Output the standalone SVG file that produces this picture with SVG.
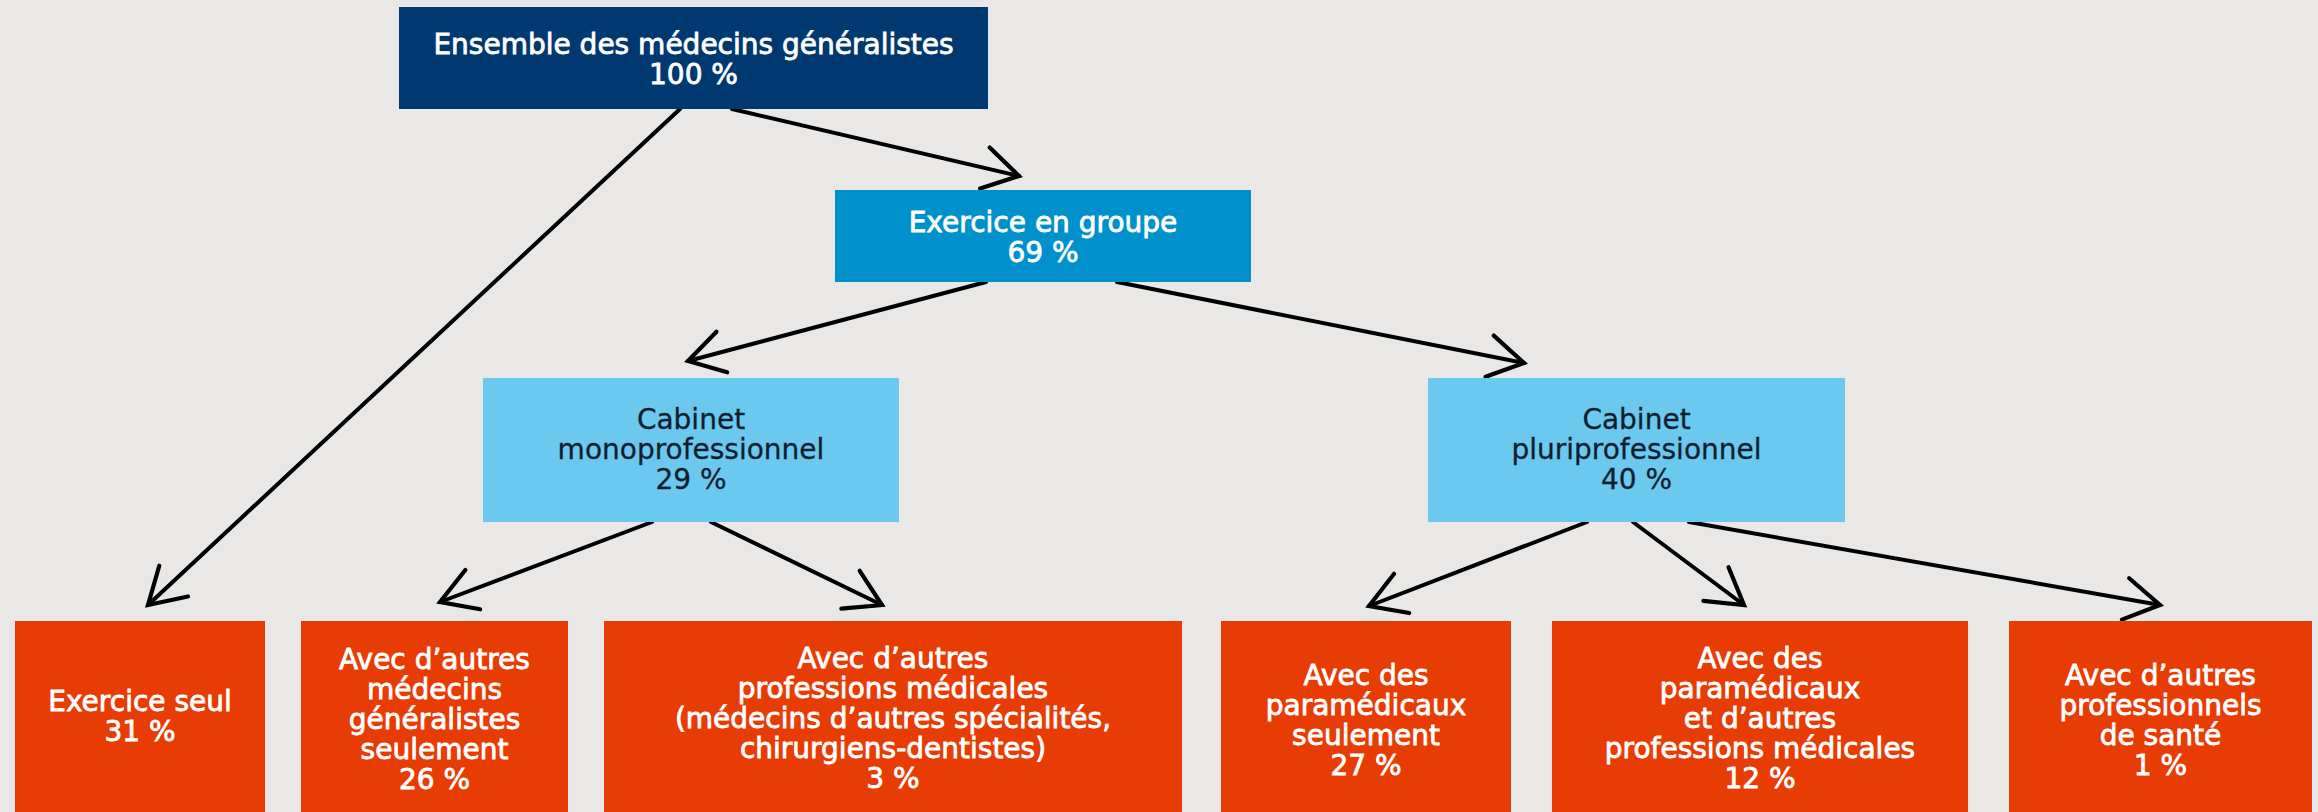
<svg xmlns="http://www.w3.org/2000/svg" width="2318" height="812" viewBox="0 0 2318 812">
<style>
  text { font-family: "DejaVu Sans", "Liberation Sans", sans-serif; font-size: 28px; text-anchor: middle; }
  .w { fill: #ffffff; stroke: #ffffff; stroke-width: 0.8px; }
  .d { fill: #0f1e2e; stroke: #0f1e2e; stroke-width: 0.3px; }
  .navy { fill: #003870; }
  .blue { fill: #0091cc; }
  .light { fill: #6bc8ef; }
  .orange { fill: #e83c05; }
  .conn line { stroke: #000000; stroke-width: 4; stroke-linecap: round; fill: none; marker-end: url(#arr); }
</style>
<defs>
  <marker id="arr" markerUnits="userSpaceOnUse" viewBox="-40 -25 45 50" markerWidth="45" markerHeight="50" refX="0" refY="0" orient="auto" overflow="visible">
    <path d="M -35 -21 L 0 0 L -35 21" fill="none" stroke="#000000" stroke-width="4.2" stroke-linecap="round" stroke-linejoin="miter"/>
  </marker>
</defs>
<rect x="0" y="0" width="2318" height="812" fill="#e9e8e6"/>

<g id="connectors" class="conn">
  <line x1="680" y1="109" x2="148" y2="605"/>
  <line x1="732" y1="109" x2="1019" y2="176"/>
  <line x1="986" y1="282" x2="688" y2="361"/>
  <line x1="1117" y1="282" x2="1524" y2="363"/>
  <line x1="652" y1="522" x2="440" y2="602"/>
  <line x1="711" y1="522" x2="882" y2="605"/>
  <line x1="1587" y1="522" x2="1369" y2="606"/>
  <line x1="1633" y1="522" x2="1744" y2="605"/>
  <line x1="1689" y1="522" x2="2160" y2="605"/>
</g>

<g id="node-ensemble">
  <rect class="navy" x="399" y="7" width="589" height="102"/>
  <text class="w" x="693.5" y="54">Ensemble des médecins généralistes</text>
  <text class="w" x="693.5" y="84">100 %</text>
</g>

<g id="node-groupe">
  <rect class="blue" x="835" y="190" width="416" height="92"/>
  <text class="w" x="1043" y="232">Exercice en groupe</text>
  <text class="w" x="1043" y="262">69 %</text>
</g>

<g id="node-mono">
  <rect class="light" x="483" y="378" width="416" height="144"/>
  <text class="d" x="691" y="429">Cabinet</text>
  <text class="d" x="691" y="459">monoprofessionnel</text>
  <text class="d" x="691" y="489">29 %</text>
</g>

<g id="node-pluri">
  <rect class="light" x="1428" y="378" width="417" height="144"/>
  <text class="d" x="1636.5" y="429">Cabinet</text>
  <text class="d" x="1636.5" y="459">pluriprofessionnel</text>
  <text class="d" x="1636.5" y="489">40 %</text>
</g>

<g id="node-seul">
  <rect class="orange" x="15" y="621" width="250" height="191"/>
  <text class="w" x="140" y="711">Exercice seul</text>
  <text class="w" x="140" y="741">31 %</text>
</g>

<g id="node-generalistes">
  <rect class="orange" x="301" y="621" width="267" height="191"/>
  <text class="w" x="434.5" y="669">Avec d’autres</text>
  <text class="w" x="434.5" y="699">médecins</text>
  <text class="w" x="434.5" y="729">généralistes</text>
  <text class="w" x="434.5" y="759">seulement</text>
  <text class="w" x="434.5" y="789">26 %</text>
</g>

<g id="node-medicales">
  <rect class="orange" x="604" y="621" width="578" height="191"/>
  <text class="w" x="893" y="668">Avec d’autres</text>
  <text class="w" x="893" y="698">professions médicales</text>
  <text class="w" x="893" y="728">(médecins d’autres spécialités,</text>
  <text class="w" x="893" y="758">chirurgiens-dentistes)</text>
  <text class="w" x="893" y="788">3 %</text>
</g>

<g id="node-paramedicaux">
  <rect class="orange" x="1221" y="621" width="290" height="191"/>
  <text class="w" x="1366" y="685">Avec des</text>
  <text class="w" x="1366" y="715">paramédicaux</text>
  <text class="w" x="1366" y="745">seulement</text>
  <text class="w" x="1366" y="775">27 %</text>
</g>

<g id="node-para-medicales">
  <rect class="orange" x="1552" y="621" width="416" height="191"/>
  <text class="w" x="1760" y="668">Avec des</text>
  <text class="w" x="1760" y="698">paramédicaux</text>
  <text class="w" x="1760" y="728">et d’autres</text>
  <text class="w" x="1760" y="758">professions médicales</text>
  <text class="w" x="1760" y="788">12 %</text>
</g>

<g id="node-sante">
  <rect class="orange" x="2009" y="621" width="303" height="191"/>
  <text class="w" x="2160.5" y="685">Avec d’autres</text>
  <text class="w" x="2160.5" y="715">professionnels</text>
  <text class="w" x="2160.5" y="745">de santé</text>
  <text class="w" x="2160.5" y="775">1 %</text>
</g>
</svg>
